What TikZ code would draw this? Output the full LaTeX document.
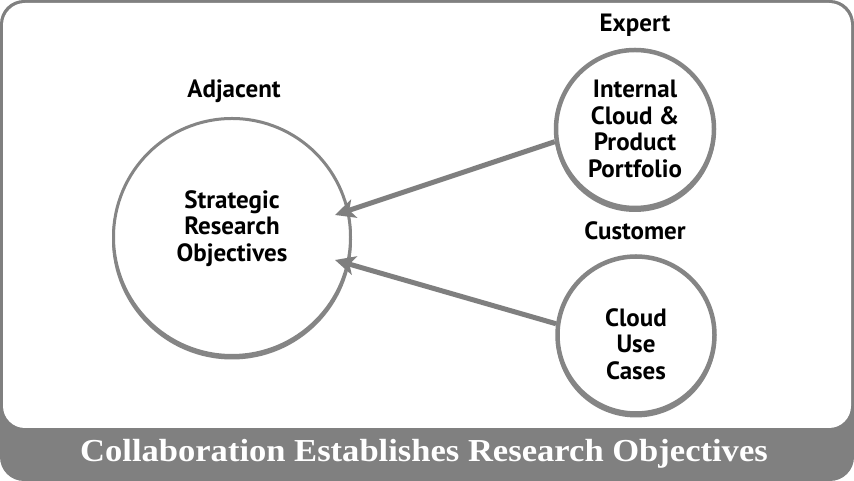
\documentclass[tikz,border=0pt]{standalone}
\usepackage{fontspec}
\setmainfont{PT Sans}
\newfontfamily\bandfont[FakeStretch=1.08]{Liberation Serif}
\usetikzlibrary{positioning, arrows.meta}
\definecolor{frgray}{HTML}{808080}
\definecolor{ringgray}{HTML}{858585}
\definecolor{arrgray}{HTML}{7F7F7F}

\tikzset{
  ring/.style={circle, draw=ringgray, line width=3pt, fill=white, align=center,
    inner sep=0pt, preaction={draw=ringgray, line width=3pt, transform canvas={yshift=-2.5pt}}},
  tag/.style={font=\fontsize{25}{27}\selectfont\bfseries},
  flow/.style={-{Stealth[length=20pt,width=19pt,inset=5pt]}, draw=arrgray, line width=5pt}
}

\begin{document}
\begin{tikzpicture}[x=1pt, y=1pt, font=\fontsize{25}{26.5}\selectfont\bfseries]
    \useasboundingbox (0,0) rectangle (854,481);
    % moldura e faixa
    \fill[frgray, rounded corners=24pt] (0,0) rectangle (854,481);
    \fill[white, rounded corners=22pt] (3,53) rectangle (851,478);
    \node[white, font=\bandfont\fontsize{32}{34}\selectfont\bfseries] (band) at (424,27)
      {Collaboration Establishes Research Objectives};
    % circulos
    \node[ring, minimum size=237pt] (strategic) at (232,244)
      {Strategic\\Research\\Objectives\\[-4pt]\mbox{}};
    \node[ring, minimum size=158pt, line width=4.5pt] (expert) at (635,352)
      {Internal\\Cloud \&\\Product\\Portfolio};
    \node[ring, minimum size=157pt, line width=4.5pt] (customer) at (636,146)
      {\mbox{}\\[9.5pt]Cloud\\Use\\Cases};
    % rotulos
    \node[tag] (adjacent) at (234,390) {Adjacent};
    \node[tag] (expertlbl) at (635,456) {Expert};
    \node[tag] (customerlbl) at (635,250) {Customer};
    % setas
    \coordinate (tipA) at (335,266);
    \coordinate (tipB) at (335,221);
    \draw[flow] (expert.189) -- (tipA);
    \draw[flow] (customer.172) -- (tipB);
  \end{tikzpicture}
\end{document}
